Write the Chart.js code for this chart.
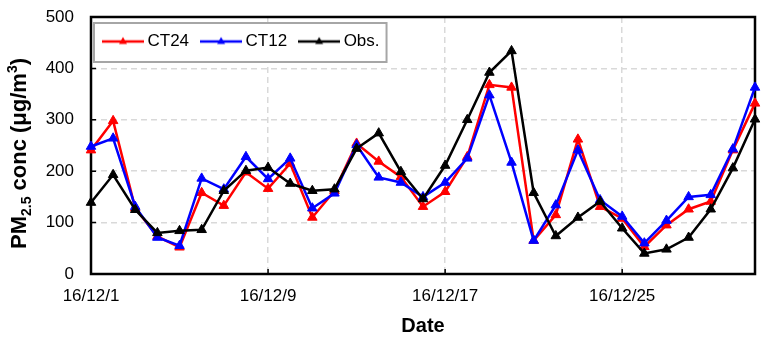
<!DOCTYPE html>
<html>
<head>
<meta charset="utf-8">
<script src="https://cdn.jsdelivr.net/npm/chart.js@4.4.1/dist/chart.umd.min.js"></script>
<style>
	html, body { margin: 0; padding: 0; background: #fff; }
	#chart-pm25 { display: block; }
</style>
</head>
<body>
<canvas id="chart-pm25" width="769" height="341"></canvas>
<script>
// Data (daily PM2.5, Dec 2016)
const DATES = [
	"16/12/1", "16/12/2", "16/12/3", "16/12/4", "16/12/5", "16/12/6", "16/12/7", "16/12/8",
	"16/12/9", "16/12/10", "16/12/11", "16/12/12", "16/12/13", "16/12/14", "16/12/15", "16/12/16",
	"16/12/17", "16/12/18", "16/12/19", "16/12/20", "16/12/21", "16/12/22", "16/12/23", "16/12/24",
	"16/12/25", "16/12/26", "16/12/27", "16/12/28", "16/12/29", "16/12/30", "16/12/31",
];
const TICK_LABELS = ["16/12/1", "16/12/9", "16/12/17", "16/12/25"];
const CT24 = [241, 298, 128, 73, 52, 158, 133, 198, 166, 215, 110, 162, 254, 219, 189, 131, 160, 228, 368, 363, 65, 115, 262, 131, 108, 53, 95, 126, 141, 241, 332];
const CT12 = [248, 264, 131, 71, 55, 186, 165, 228, 185, 225, 128, 157, 251, 188, 178, 150, 178, 225, 348, 217, 65, 134, 241, 144, 112, 60, 104, 150, 154, 243, 363];
const OBS = [139, 193, 125, 80, 84, 86, 162, 201, 207, 176, 162, 165, 244, 274, 199, 146, 211, 300, 392, 434, 158, 74, 110, 141, 89, 40, 48, 71, 126, 206, 301];
const Y_MIN = 0;
const Y_MAX = 500;
const Y_STEP = 100;

const FONT_FAMILY = "'Liberation Sans', Arial, sans-serif";
const GRID_COLOR = "#d9d9d9";

// Legend icon: short line with a triangle in the middle
const legendIcon = (color) => {
	const c = document.createElement("canvas");
	c.width = 42;
	c.height = 12;
	const ctx = c.getContext("2d");
	ctx.strokeStyle = color;
	ctx.lineWidth = 2.5;
	ctx.beginPath();
	ctx.moveTo(0, 6);
	ctx.lineTo(42, 6);
	ctx.stroke();
	ctx.fillStyle = color;
	ctx.beginPath();
	ctx.moveTo(21, 1.5);
	ctx.lineTo(25, 8.5);
	ctx.lineTo(17, 8.5);
	ctx.closePath();
	ctx.fill();
	return c;
};

const series = (label, data, color, order) => ({
	label,
	data,
	order,
	borderColor: color,
	backgroundColor: color,
	borderWidth: 2.5,
	tension: 0,
	pointStyle: "triangle",
	pointRadius: 5.5,
	pointBorderWidth: 1,
	pointBackgroundColor: color,
	pointBorderColor: color,
});

// Frame, inner tick marks and legend box
const framePlugin = {
	id: "frame",
	afterInit(chart) {
		// legend sits inside the plot area but keeps a single row
		chart.legend.isHorizontal = () => true;
	},
	afterLayout(chart) {
		chart.legend.left = chart.chartArea.left;
		chart.legend.right = chart.chartArea.right;
	},
	beforeDatasetsDraw(chart) {
		const { ctx, chartArea: a, scales: { x, y } } = chart;
		ctx.save();

		const boxes = chart.legend.legendHitBoxes;
		if (boxes && boxes.length) {
			const first = boxes[0];
			const last = boxes[boxes.length - 1];
			const l = first.left - 13;
			const t = first.top - 10;
			const r = last.left + last.width + 7;
			const b = first.top + first.height + 12;
			ctx.fillStyle = "#fff";
			ctx.fillRect(l, t, r - l, b - t);
			ctx.strokeStyle = "#a6a6a6";
			ctx.lineWidth = 2;
			ctx.strokeRect(l, t, r - l, b - t);
			chart.legend.draw();
		}

		ctx.strokeStyle = "#000";
		ctx.lineWidth = 1.5;
		ctx.beginPath();
		y.ticks.forEach((tick) => {
			const py = y.getPixelForValue(tick.value);
			ctx.moveTo(a.left, py);
			ctx.lineTo(a.left + 5, py);
		});
		x.ticks.forEach((tick, i) => {
			if (tick.label) {
				const px = x.getPixelForTick(i);
				ctx.moveTo(px, a.bottom);
				ctx.lineTo(px, a.bottom - 5);
			}
		});
		ctx.stroke();

		ctx.lineWidth = 2.5;
		ctx.strokeRect(a.left, a.top, a.right - a.left, a.bottom - a.top);
		ctx.restore();
	},
};

// Y axis title with sub/superscript
const yTitlePlugin = {
	id: "yTitle",
	afterDraw(chart) {
		const { ctx, chartArea: a } = chart;
		const parts = [
			{ text: "PM", size: 22, shift: 0 },
			{ text: "2.5", size: 14, shift: 5 },
			{ text: " conc (μg/m", size: 22, shift: 0 },
			{ text: "3", size: 14, shift: -9 },
			{ text: ")", size: 22, shift: 0 },
		];
		ctx.save();
		let total = 0;
		parts.forEach((p) => {
			ctx.font = `bold ${p.size}px ${FONT_FAMILY}`;
			p.width = ctx.measureText(p.text).width;
			total += p.width;
		});
		ctx.translate(18, (a.top + a.bottom) / 2 + 8);
		ctx.rotate(-Math.PI / 2);
		ctx.fillStyle = "#000";
		ctx.textBaseline = "alphabetic";
		ctx.textAlign = "left";
		let cx = -total / 2;
		parts.forEach((p) => {
			ctx.font = `bold ${p.size}px ${FONT_FAMILY}`;
			ctx.fillText(p.text, cx, 8 + p.shift);
			cx += p.width;
		});
		ctx.restore();
	},
};

const CHART_DATA = {
	labels: DATES,
	datasets: [
		series("CT24", CT24, "#ff0000", 3),
		series("CT12", CT12, "#0000ff", 2),
		series("Obs.", OBS, "#000000", 1),
	],
};

const CHART_CONFIG = {
	type: "line",
	data: CHART_DATA,
	options: {
		responsive: false,
		animation: false,
		layout: {
			padding: { top: 17, right: 14, left: 0, bottom: 0 },
		},
		scales: {
			x: {
				offset: false,
				border: { display: false, dash: [6, 4] },
				grid: {
					drawTicks: false,
					lineWidth: 1.5,
					color: (ctx) => (ctx.tick && ctx.tick.label ? GRID_COLOR : "transparent"),
				},
				ticks: {
					autoSkip: false,
					maxRotation: 0,
					padding: 12,
					color: "#000",
					font: { family: FONT_FAMILY, size: 17 },
					callback: function (value) {
						const label = this.getLabelForValue(value);
						return TICK_LABELS.includes(label) ? label : "";
					},
				},
				title: {
					display: true,
					text: "Date",
					color: "#000",
					font: { family: FONT_FAMILY, size: 20, weight: "bold" },
					padding: { top: 0, bottom: 3 },
				},
				afterFit: (scale) => {
					scale.height = 67;
				},
			},
			y: {
				min: Y_MIN,
				max: Y_MAX,
				border: { display: false, dash: [6, 4] },
				grid: {
					drawTicks: false,
					lineWidth: 1.5,
					color: (ctx) =>
						ctx.tick && ctx.tick.value > Y_MIN && ctx.tick.value < Y_MAX ? GRID_COLOR : "transparent",
				},
				ticks: {
					stepSize: Y_STEP,
					padding: 17,
					color: "#000",
					font: { family: FONT_FAMILY, size: 17 },
				},
				afterFit: (scale) => {
					scale.width = 91;
					// tick padding would otherwise push the plot top down
					scale.paddingTop = 0;
					scale.paddingBottom = 0;
				},
			},
		},
		plugins: {
			legend: {
				position: "chartArea",
				align: "start",
				labels: {
					usePointStyle: true,
					pointStyleWidth: 32,
					padding: 16,
					color: "#000",
					font: { family: FONT_FAMILY, size: 17 },
					sort: (a, b) => a.datasetIndex - b.datasetIndex,
					generateLabels: (chart) =>
						Chart.defaults.plugins.legend.labels.generateLabels(chart).map((item) => ({
							...item,
							pointStyle: legendIcon(chart.data.datasets[item.datasetIndex].borderColor),
						})),
				},
			},
			tooltip: { enabled: false },
		},
	},
	plugins: [framePlugin, yTitlePlugin],
};

new Chart(document.getElementById("chart-pm25"), CHART_CONFIG);
</script>
</body>
</html>
